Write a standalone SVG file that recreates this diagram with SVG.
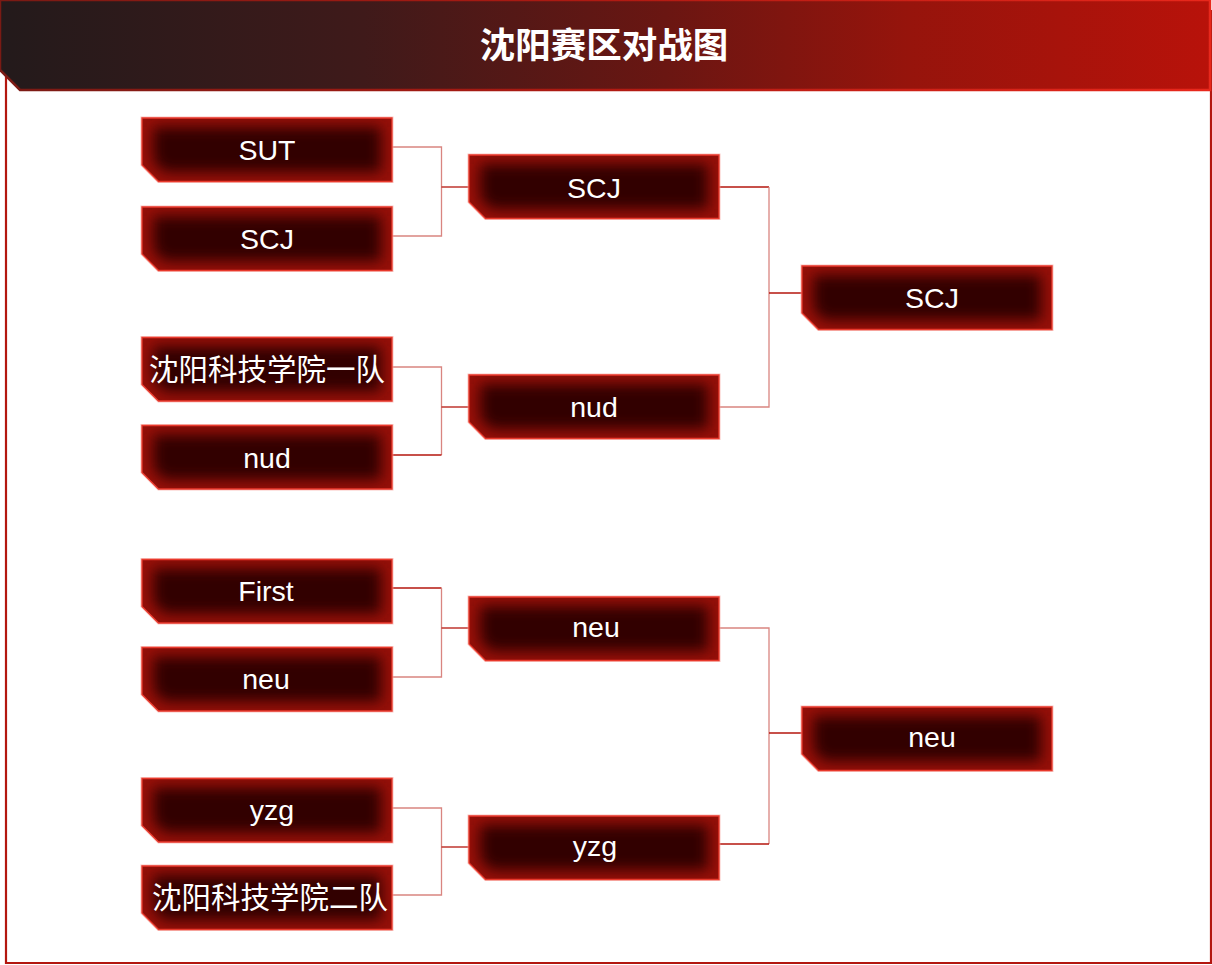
<svg xmlns="http://www.w3.org/2000/svg" xmlns:xlink="http://www.w3.org/1999/xlink" width="1212" height="965" viewBox="0 0 1212 965">
<style>
.lbl{font-family:"Liberation Sans","Noto Sans CJK SC",sans-serif;font-size:28.5px;fill:#ffffff;text-anchor:middle}
.cjk{font-family:"Noto Sans CJK SC","Liberation Sans",sans-serif;font-size:29.5px;fill:#ffffff;text-anchor:middle}
.title{font-family:"Noto Sans CJK SC",sans-serif;font-size:35.5px;font-weight:bold;fill:#ffffff;text-anchor:middle}
.lt{stroke:#d98580;stroke-width:1.3;fill:none}
.dk{stroke:#b5160e;stroke-width:1.3;fill:none}
.frame{stroke:#b3170f;stroke-width:2.2;fill:none}
</style>
<defs>
<linearGradient id="hdr" x1="0" y1="0" x2="1" y2="0">
<stop offset="0" stop-color="#231a1b"/>
<stop offset="0.3" stop-color="#3f1a1a"/>
<stop offset="0.55" stop-color="#6a1612"/>
<stop offset="0.75" stop-color="#96140c"/>
<stop offset="1" stop-color="#b8120a"/>
</linearGradient>
<linearGradient id="hdrEdge" x1="0" y1="0" x2="1" y2="0">
<stop offset="0" stop-color="#7a1a14"/>
<stop offset="0.5" stop-color="#b01a12"/>
<stop offset="1" stop-color="#e8281c"/>
</linearGradient>
<path id="shape" d="M0,0 H250 V63.5 H16.5 L0,47 Z"/>
<clipPath id="nclip"><use xlink:href="#shape"/></clipPath>
<filter id="blur" x="-30%" y="-60%" width="160%" height="220%"><feGaussianBlur stdDeviation="7"/></filter>
<g id="nodeBody">
<use xlink:href="#shape" fill="none" stroke="#f6a29a" stroke-width="3" stroke-opacity="0.6"/>
<g clip-path="url(#nclip)">
<rect x="0" y="0" width="250" height="64" fill="#960f08"/>
<path d="M11,9 H239 V54 H22 L11,43 Z" fill="#300000" filter="url(#blur)"/>
</g>
<use xlink:href="#shape" fill="none" stroke="#e8392c" stroke-width="1.3"/>
</g>
</defs>

<g id="frame">
<path class="frame" d="M6,75 V963 H1211 V10"/>
</g>

<g id="header">
<path d="M0,0 H1210 V90 H20 L0,70 Z" fill="url(#hdr)" stroke="url(#hdrEdge)" stroke-width="2.5"/>
<text class="title" x="604" y="58">沈阳赛区对战图</text>
</g>

<g id="connectors">
<path class="lt" d="M391,147 H441.5 V236 H391"/>
<path class="dk" d="M441.5,187 H469"/>
<path class="lt" d="M391,367 H441.5 V455"/>
<path class="dk" d="M391,455 H441.5"/>
<path class="dk" d="M441.5,407 H469"/>
<path class="dk" d="M391,588 H441.5"/>
<path class="lt" d="M441.5,588 V677 H391"/>
<path class="dk" d="M441.5,628 H469"/>
<path class="lt" d="M391,808 H441.5 V895 H391"/>
<path class="dk" d="M441.5,847 H469"/>
<path class="dk" d="M719,187 H769"/>
<path class="lt" d="M769,187 V407 H719"/>
<path class="dk" d="M769,293 H802"/>
<path class="lt" d="M719,628 H769 V844"/>
<path class="dk" d="M769,844 H719"/>
<path class="dk" d="M769,733 H802"/>
</g>

<g id="r1-sut" transform="translate(142,118)"><use xlink:href="#nodeBody"/><text class="lbl" x="125" y="42">SUT</text></g>
<g id="r1-scj" transform="translate(142,207)"><use xlink:href="#nodeBody"/><text class="lbl" x="125" y="42">SCJ</text></g>
<g id="r1-sykj1" transform="translate(142,337.5)"><use xlink:href="#nodeBody"/><text class="cjk" x="125" y="42">沈阳科技学院一队</text></g>
<g id="r1-nud" transform="translate(142,425.5)"><use xlink:href="#nodeBody"/><text class="lbl" x="125" y="42">nud</text></g>
<g id="r1-first" transform="translate(142,559.5)"><use xlink:href="#nodeBody"/><text class="lbl" x="124" y="41">First</text></g>
<g id="r1-neu" transform="translate(142,647.5)"><use xlink:href="#nodeBody"/><text class="lbl" x="124" y="41">neu</text></g>
<g id="r1-yzg" transform="translate(142,778.5)"><use xlink:href="#nodeBody"/><text class="lbl" x="130" y="41">yzg</text></g>
<g id="r1-sykj2" transform="translate(142,866)"><use xlink:href="#nodeBody"/><text class="cjk" x="128" y="42">沈阳科技学院二队</text></g>

<g id="r2-scj" transform="translate(469,155)"><use xlink:href="#nodeBody"/><text class="lbl" x="125" y="43">SCJ</text></g>
<g id="r2-nud" transform="translate(469,375)"><use xlink:href="#nodeBody"/><text class="lbl" x="125" y="42">nud</text></g>
<g id="r2-neu" transform="translate(469,597)"><use xlink:href="#nodeBody"/><text class="lbl" x="127" y="40">neu</text></g>
<g id="r2-yzg" transform="translate(469,816)"><use xlink:href="#nodeBody"/><text class="lbl" x="126" y="40">yzg</text></g>

<g id="f-scj" transform="translate(802,266)"><use xlink:href="#nodeBody"/><text class="lbl" x="130" y="42">SCJ</text></g>
<g id="f-neu" transform="translate(802,707)"><use xlink:href="#nodeBody"/><text class="lbl" x="130" y="40">neu</text></g>
</svg>
